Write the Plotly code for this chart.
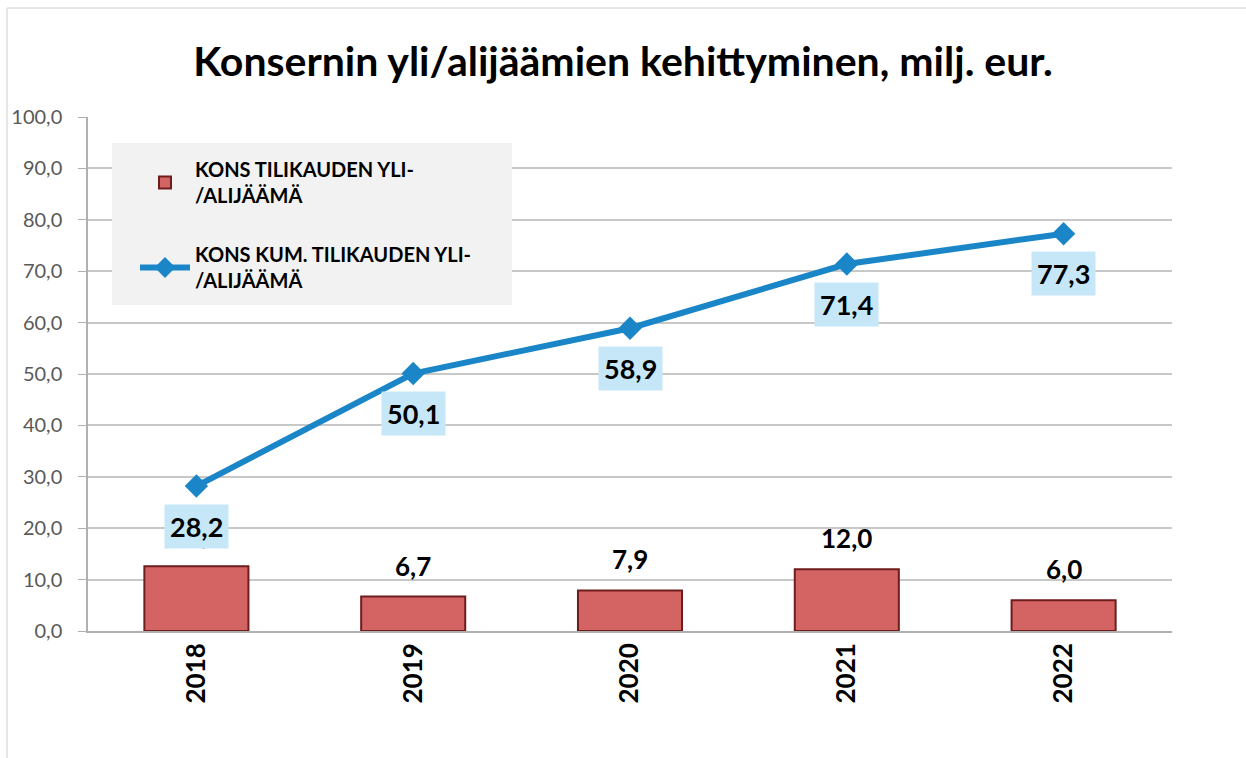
import plotly.graph_objects as go

years = ["2018", "2019", "2020", "2021", "2022"]
annual = [12.6, 6.7, 7.9, 12.0, 6.0]
cumulative = [28.2, 50.1, 58.9, 71.4, 77.3]
bar_name = "KONS TILIKAUDEN YLI-<br>/ALIJÄÄMÄ"
line_name = "KONS KUM. TILIKAUDEN YLI-<br>/ALIJÄÄMÄ"
title_text = "Konsernin yli/alijäämien kehittyminen, milj. eur."

def fi(v):
    return f"{v:.1f}".replace(".", ",")

FONT = "Lato"

fig = go.Figure()
fig.add_trace(go.Bar(
    x=years, y=annual, name=bar_name, legendgroup="a",
    marker=dict(color="#d46464", line=dict(color="#6e1c1c", width=2)),
    width=0.48,
))
fig.add_trace(go.Scatter(
    x=years, y=cumulative, name=line_name, mode="lines+markers", legendgroup="b",
    line=dict(color="#1a86c8", width=6),
    marker=dict(symbol="diamond", size=18, color="#1a86c8"),
    cliponaxis=False,
))

# bar value labels (category axis: annotations use category index)
for i, v in enumerate(annual):
    fig.add_annotation(
        x=i, y=v, xref="x", yref="y", text="<b>" + fi(v) + "</b>",
        showarrow=False, yanchor="bottom", yshift=13,
        font=dict(family=FONT, size=26, color="black"),
    )

# line value labels
for i, v in enumerate(cumulative):
    fig.add_annotation(
        x=i, y=v, xref="x", yref="y", text="<b>" + fi(v) + "</b>",
        showarrow=False, yshift=-40,
        font=dict(family=FONT, size=27, color="black"),
        bgcolor="#c6e7f8", borderpad=5,
    )

fig.add_shape(type="rect", xref="paper", yref="paper",
              x0=(112 - 88) / 1084, x1=(512 - 88) / 1084,
              y0=(631 - 305) / 514, y1=(631 - 143) / 514,
              fillcolor="#f2f2f2", line=dict(width=0), layer="above")

# outer frame
fig.add_shape(type="rect", xref="paper", yref="paper",
              x0=(7 - 88) / 1084, x1=(1300 - 88) / 1084,
              y0=(631 - 800) / 514, y1=(631 - 8) / 514,
              line=dict(color="#d0d0d0", width=1), fillcolor="rgba(0,0,0,0)")

fig.update_layout(
    width=1246, height=758,
    margin=dict(l=88, r=74, t=117, b=127),
    paper_bgcolor="white", plot_bgcolor="white",
    title=dict(text="<b>" + title_text + "</b>", x=0.5, xanchor="center",
               y=1 - 62 / 758, yanchor="middle",
               font=dict(family=FONT, size=41, color="black")),
    showlegend=True,
    legend=dict(x=(135 - 88) / 1084, y=(631 - 150) / 514, xanchor="left", yanchor="top",
                bgcolor="rgba(0,0,0,0)",
                font=dict(family=FONT, size=20, color="black", weight="bold"),
                itemwidth=50, tracegroupgap=30, traceorder="grouped"),
    font=dict(family=FONT),
    separators=", ",
)
fig.update_yaxes(range=[0, 100], dtick=10, tickformat=".1f",
                 showgrid=True, gridcolor="#c8c8c8", gridwidth=1.5,
                 showline=True, linecolor="#b0b0b0", linewidth=1.5,
                 ticks="outside", ticklen=8, tickcolor="#b0b0b0",
                 ticklabelstandoff=12,
                 tickfont=dict(family=FONT, size=20, color="#595959"),
                 zeroline=False)
fig.update_xaxes(type="category", range=[-0.5, 4.5],
                 showline=True, linecolor="#b0b0b0", linewidth=1.5,
                 tickangle=-90,
                 tickfont=dict(family=FONT, size=26, color="black", weight="bold"),
                 ticks="", showgrid=False)

fig.write_html("out.html", config={"displayModeBar": False},
               post_script="document.body.style.margin='0';")
